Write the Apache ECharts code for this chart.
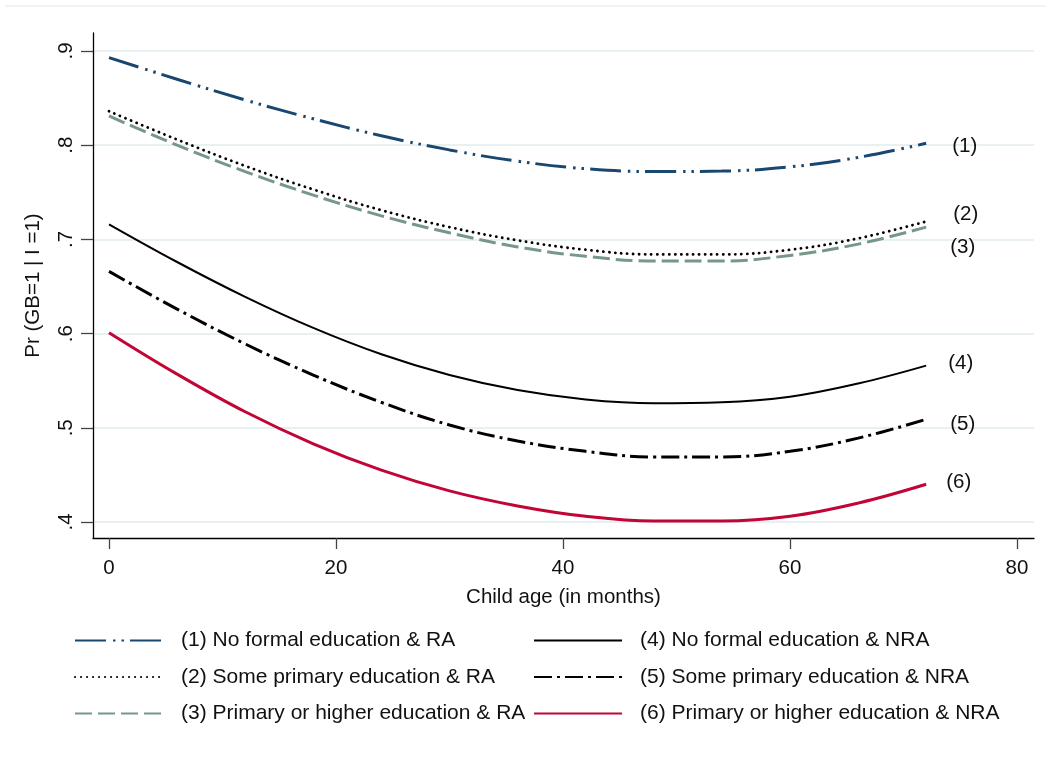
<!DOCTYPE html>
<html><head><meta charset="utf-8">
<script src="https://cdn.jsdelivr.net/npm/echarts@6/dist/echarts.min.js"></script>
<style>html,body{margin:0;padding:0;background:#fff}#c{width:1051px;height:769px}</style>
</head><body><div id="c"></div>
<script>
// ---- data ----
const ages = [0, 6, 12, 18, 24, 30, 36, 42, 48, 54, 60, 66, 72];
const seriesNames = [
  '(1) No formal education & RA',
  '(2) Some primary education & RA',
  '(3) Primary or higher education & RA',
  '(4) No formal education & NRA',
  '(5) Some primary education & NRA',
  '(6) Primary or higher education & NRA'
];
const endTags = ['(1)', '(2)', '(3)', '(4)', '(5)', '(6)'];
const noFormalRA      = [0.893, 0.870, 0.848, 0.828, 0.810, 0.795, 0.783, 0.775, 0.772, 0.7725, 0.777, 0.787, 0.802];
const somePrimaryRA   = [0.836, 0.806, 0.778, 0.753, 0.731, 0.713, 0.699, 0.689, 0.684, 0.684, 0.689, 0.701, 0.719];
const primaryHigherRA = [0.831, 0.800, 0.772, 0.747, 0.725, 0.707, 0.692, 0.682, 0.677, 0.677, 0.683, 0.695, 0.713];
const noFormalNRA     = [0.716, 0.676, 0.639, 0.606, 0.578, 0.556, 0.540, 0.530, 0.526, 0.527, 0.533, 0.547, 0.566];
const somePrimaryNRA  = [0.666, 0.626, 0.589, 0.556, 0.527, 0.503, 0.486, 0.475, 0.469, 0.469, 0.475, 0.489, 0.509];
const primaryHigherNRA= [0.601, 0.557, 0.517, 0.483, 0.455, 0.433, 0.417, 0.406, 0.401, 0.401, 0.406, 0.420, 0.440];
const yTicks = [0.4, 0.5, 0.6, 0.7, 0.8, 0.9];
const yTickLabels = ['.4', '.5', '.6', '.7', '.8', '.9'];
const xTicks = [0, 20, 40, 60, 80];

// ---- styles ----
const FONT = '"Liberation Sans", Arial, Helvetica, sans-serif';
const lineStyles = [
  { color: '#1a476f', width: 3, type: [31, 7, 2.5, 6, 2.5, 6] },
  { color: '#000000', width: 2.8, type: [0.1, 5.9], cap: 'round' },
  { color: '#76978a', width: 3, type: [17, 6] },
  { color: '#000000', width: 2, type: 'solid' },
  { color: '#000000', width: 3, type: [18, 5, 3, 5] },
  { color: '#c10534', width: 3, type: 'solid' }
];
const endLabelOffsets = [[26, 3], [27, -7], [24, 20], [22, -2], [24, 5], [20, -2]];

const allValues = [noFormalRA, somePrimaryRA, primaryHigherRA, noFormalNRA, somePrimaryNRA, primaryHigherNRA];

const series = allValues.map((vals, i) => ({
  name: seriesNames[i],
  type: 'line',
  data: ages.map((a, j) => [a, vals[j]]),
  smooth: 0.4,
  symbol: 'none',
  lineStyle: lineStyles[i],
  itemStyle: { color: lineStyles[i].color },
  endLabel: {
    show: true,
    formatter: endTags[i],
    color: '#111',
    fontSize: 20.5,
    fontFamily: FONT,
    distance: 0,
    offset: endLabelOffsets[i]
  },
  z: 3
}));

const legendCommon = {
  orient: 'vertical',
  top: 630,
  padding: 0,
  itemWidth: 88,
  itemHeight: 26,
  itemGap: 15.5,
  selectedMode: false,
  itemStyle: { opacity: 0 },
  textStyle: { fontSize: 21, fontFamily: FONT, color: '#111', padding: [0, 0, 0, 13] }
};

const chart = echarts.init(document.getElementById('c'), null, { renderer: 'canvas' });
chart.setOption({
  animation: false,
  backgroundColor: '#ffffff',
  grid: { left: 93, right: 17, top: 33, bottom: 231, containLabel: false },
  xAxis: {
    type: 'value',
    min: -1.41, max: 81.5,
    name: 'Child age (in months)',
    nameLocation: 'middle',
    nameGap: 49,
    nameTextStyle: { fontSize: 20.5, fontFamily: FONT, color: '#111' },
    axisLine: { show: true, onZero: false, lineStyle: { color: '#000', width: 1.3 } },
    axisTick: { show: true, customValues: xTicks, length: 11, lineStyle: { color: '#444', width: 1.3 } },
    axisLabel: { customValues: xTicks, fontSize: 20.5, fontFamily: FONT, color: '#111', margin: 20 },
    splitLine: { show: false }
  },
  yAxis: {
    type: 'value',
    min: 0.383, max: 0.9191,
    name: 'Pr (GB=1 | I =1)',
    nameLocation: 'middle',
    nameGap: 49,
    nameTextStyle: { fontSize: 20.5, fontFamily: FONT, color: '#111' },
    axisLine: { show: true, onZero: false, lineStyle: { color: '#000', width: 1.3 } },
    axisTick: { show: true, customValues: yTicks, length: 12, lineStyle: { color: '#444', width: 1.3 } },
    axisLabel: {
      customValues: yTicks,
      rotate: 90,
      fontSize: 20.5, fontFamily: FONT, color: '#111', margin: 16,
      formatter: (v) => yTickLabels[yTicks.findIndex(t => Math.abs(t - v) < 1e-6)] || ''
    },
    splitLine: { show: true, lineStyle: { color: '#e8f0f2', width: 2 } }
  },
  legend: [
    Object.assign({ left: 74, data: seriesNames.slice(0, 3) }, legendCommon),
    Object.assign({ left: 533, data: seriesNames.slice(3) }, legendCommon)
  ],
  graphic: [{
    type: 'line',
    shape: { x1: 5, y1: 6, x2: 1046, y2: 6 },
    style: { stroke: '#e8f0f2', lineWidth: 1.5 },
    silent: true
  }],
  series: series
});
</script>
</body></html>
